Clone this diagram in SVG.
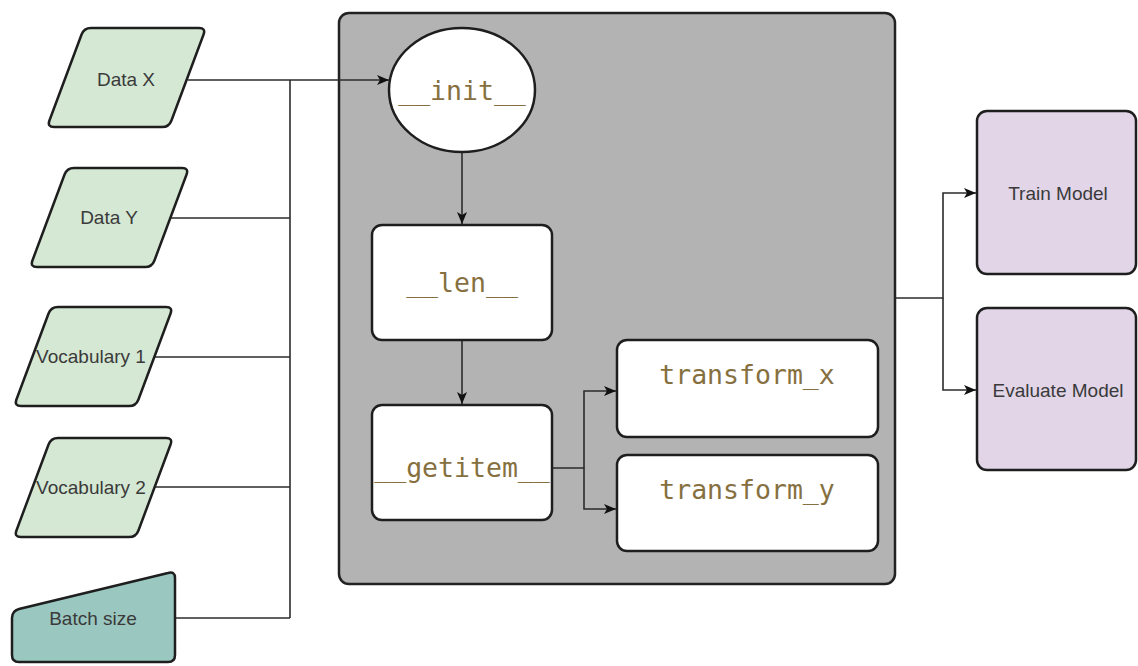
<svg xmlns="http://www.w3.org/2000/svg" width="1138" height="666" viewBox="0 0 1138 666">
<style>
.inp{fill:#d5e8d4;stroke:#1e1e1e;stroke-width:2.5;stroke-linejoin:round}
.batch{fill:#9ac7bf;stroke:#1e1e1e;stroke-width:2.5;stroke-linejoin:round}
.box{fill:#ffffff;stroke:#1e1e1e;stroke-width:2.5}
.out{fill:#e1d5e7;stroke:#1e1e1e;stroke-width:2.5}
.lbl{font-family:"Liberation Sans",Arial,sans-serif;font-size:19px;fill:#3a3a3a;text-anchor:middle}
.code{font-family:"DejaVu Sans Mono","Liberation Mono",monospace;font-size:26.5px;fill:#86703f;text-anchor:middle}
.edge{fill:none;stroke:#2b2b2b;stroke-width:1.6}
</style>
<defs>
<path id="para" d="M 44,0 L 152,0 Q 159,0 156.55,6.56 L 124.45,92.44 Q 122,99 115,99 L 7,99 Q 0,99 2.45,92.44 L 34.55,6.56 Q 37,0 44,0 Z"/>
<marker id="arr" viewBox="0 0 12 10" refX="12" refY="5" markerWidth="12" markerHeight="10" markerUnits="userSpaceOnUse" orient="auto">
<path d="M0,0 L12,5 L0,10 L3,5 Z" fill="#111"/>
</marker>
</defs>

<g id="container">
<rect x="339" y="13" width="556" height="571" rx="10" fill="#b3b3b3" stroke="#222" stroke-width="2.5"/>
</g>

<g id="connectors">
<path class="edge" d="M188,80 L389,80" marker-end="url(#arr)"/>
<path class="edge" d="M290,80 L290,618"/>
<path class="edge" d="M170,218 L290,218"/>
<path class="edge" d="M154,357 L290,357"/>
<path class="edge" d="M155,487 L290,487"/>
<path class="edge" d="M175,618 L290,618"/>
<path class="edge" d="M462,152 L462,224" marker-end="url(#arr)"/>
<path class="edge" d="M462,340 L462,404" marker-end="url(#arr)"/>
<path class="edge" d="M552,468 L584,468 L584,391 L616,391" marker-end="url(#arr)"/>
<path class="edge" d="M584,468 L584,509 L616,509" marker-end="url(#arr)"/>
<path class="edge" d="M895,298 L943,298 L943,193 L976,193" marker-end="url(#arr)"/>
<path class="edge" d="M943,298 L943,390 L976,390" marker-end="url(#arr)"/>
</g>

<g id="data-x">
<use href="#para" class="inp" transform="translate(47,28)"/>
<text class="lbl" x="126" y="86">Data X</text>
</g>
<g id="data-y">
<use href="#para" class="inp" transform="translate(30,168)"/>
<text class="lbl" x="109" y="224">Data Y</text>
</g>
<g id="vocab-1">
<use href="#para" class="inp" transform="translate(14,307)"/>
<text class="lbl" x="91" y="363">Vocabulary 1</text>
</g>
<g id="vocab-2">
<use href="#para" class="inp" transform="translate(14,438)"/>
<text class="lbl" x="91" y="494">Vocabulary 2</text>
</g>
<g id="batch-size">
<path class="batch" d="M 12,618 Q 12,611 19,609 L 168,573 Q 175,571 175,578 L 175,655 Q 175,662 168,662 L 19,662 Q 12,662 12,655 Z"/>
<text class="lbl" x="93" y="625">Batch size</text>
</g>

<g id="init">
<ellipse cx="462" cy="90" rx="73" ry="62" class="box"/>
<text class="code" x="462" y="100">__init__</text>
</g>
<g id="len">
<rect x="372" y="225" width="180" height="115" rx="10" class="box"/>
<text class="code" x="462" y="292">__len__</text>
</g>
<g id="getitem">
<rect x="372" y="405" width="180" height="115" rx="10" class="box"/>
<text class="code" x="462" y="477">__getitem__</text>
</g>
<g id="transform-x">
<rect x="617" y="340" width="261" height="97" rx="10" class="box"/>
<text class="code" x="747" y="384">transform_x</text>
</g>
<g id="transform-y">
<rect x="617" y="455" width="261" height="96" rx="10" class="box"/>
<text class="code" x="747" y="499">transform_y</text>
</g>

<g id="train-model">
<rect x="977" y="111" width="159" height="163" rx="10" class="out"/>
<text class="lbl" x="1058" y="200">Train Model</text>
</g>
<g id="evaluate-model">
<rect x="977" y="308" width="159" height="162" rx="10" class="out"/>
<text class="lbl" x="1058" y="397">Evaluate Model</text>
</g>
</svg>
